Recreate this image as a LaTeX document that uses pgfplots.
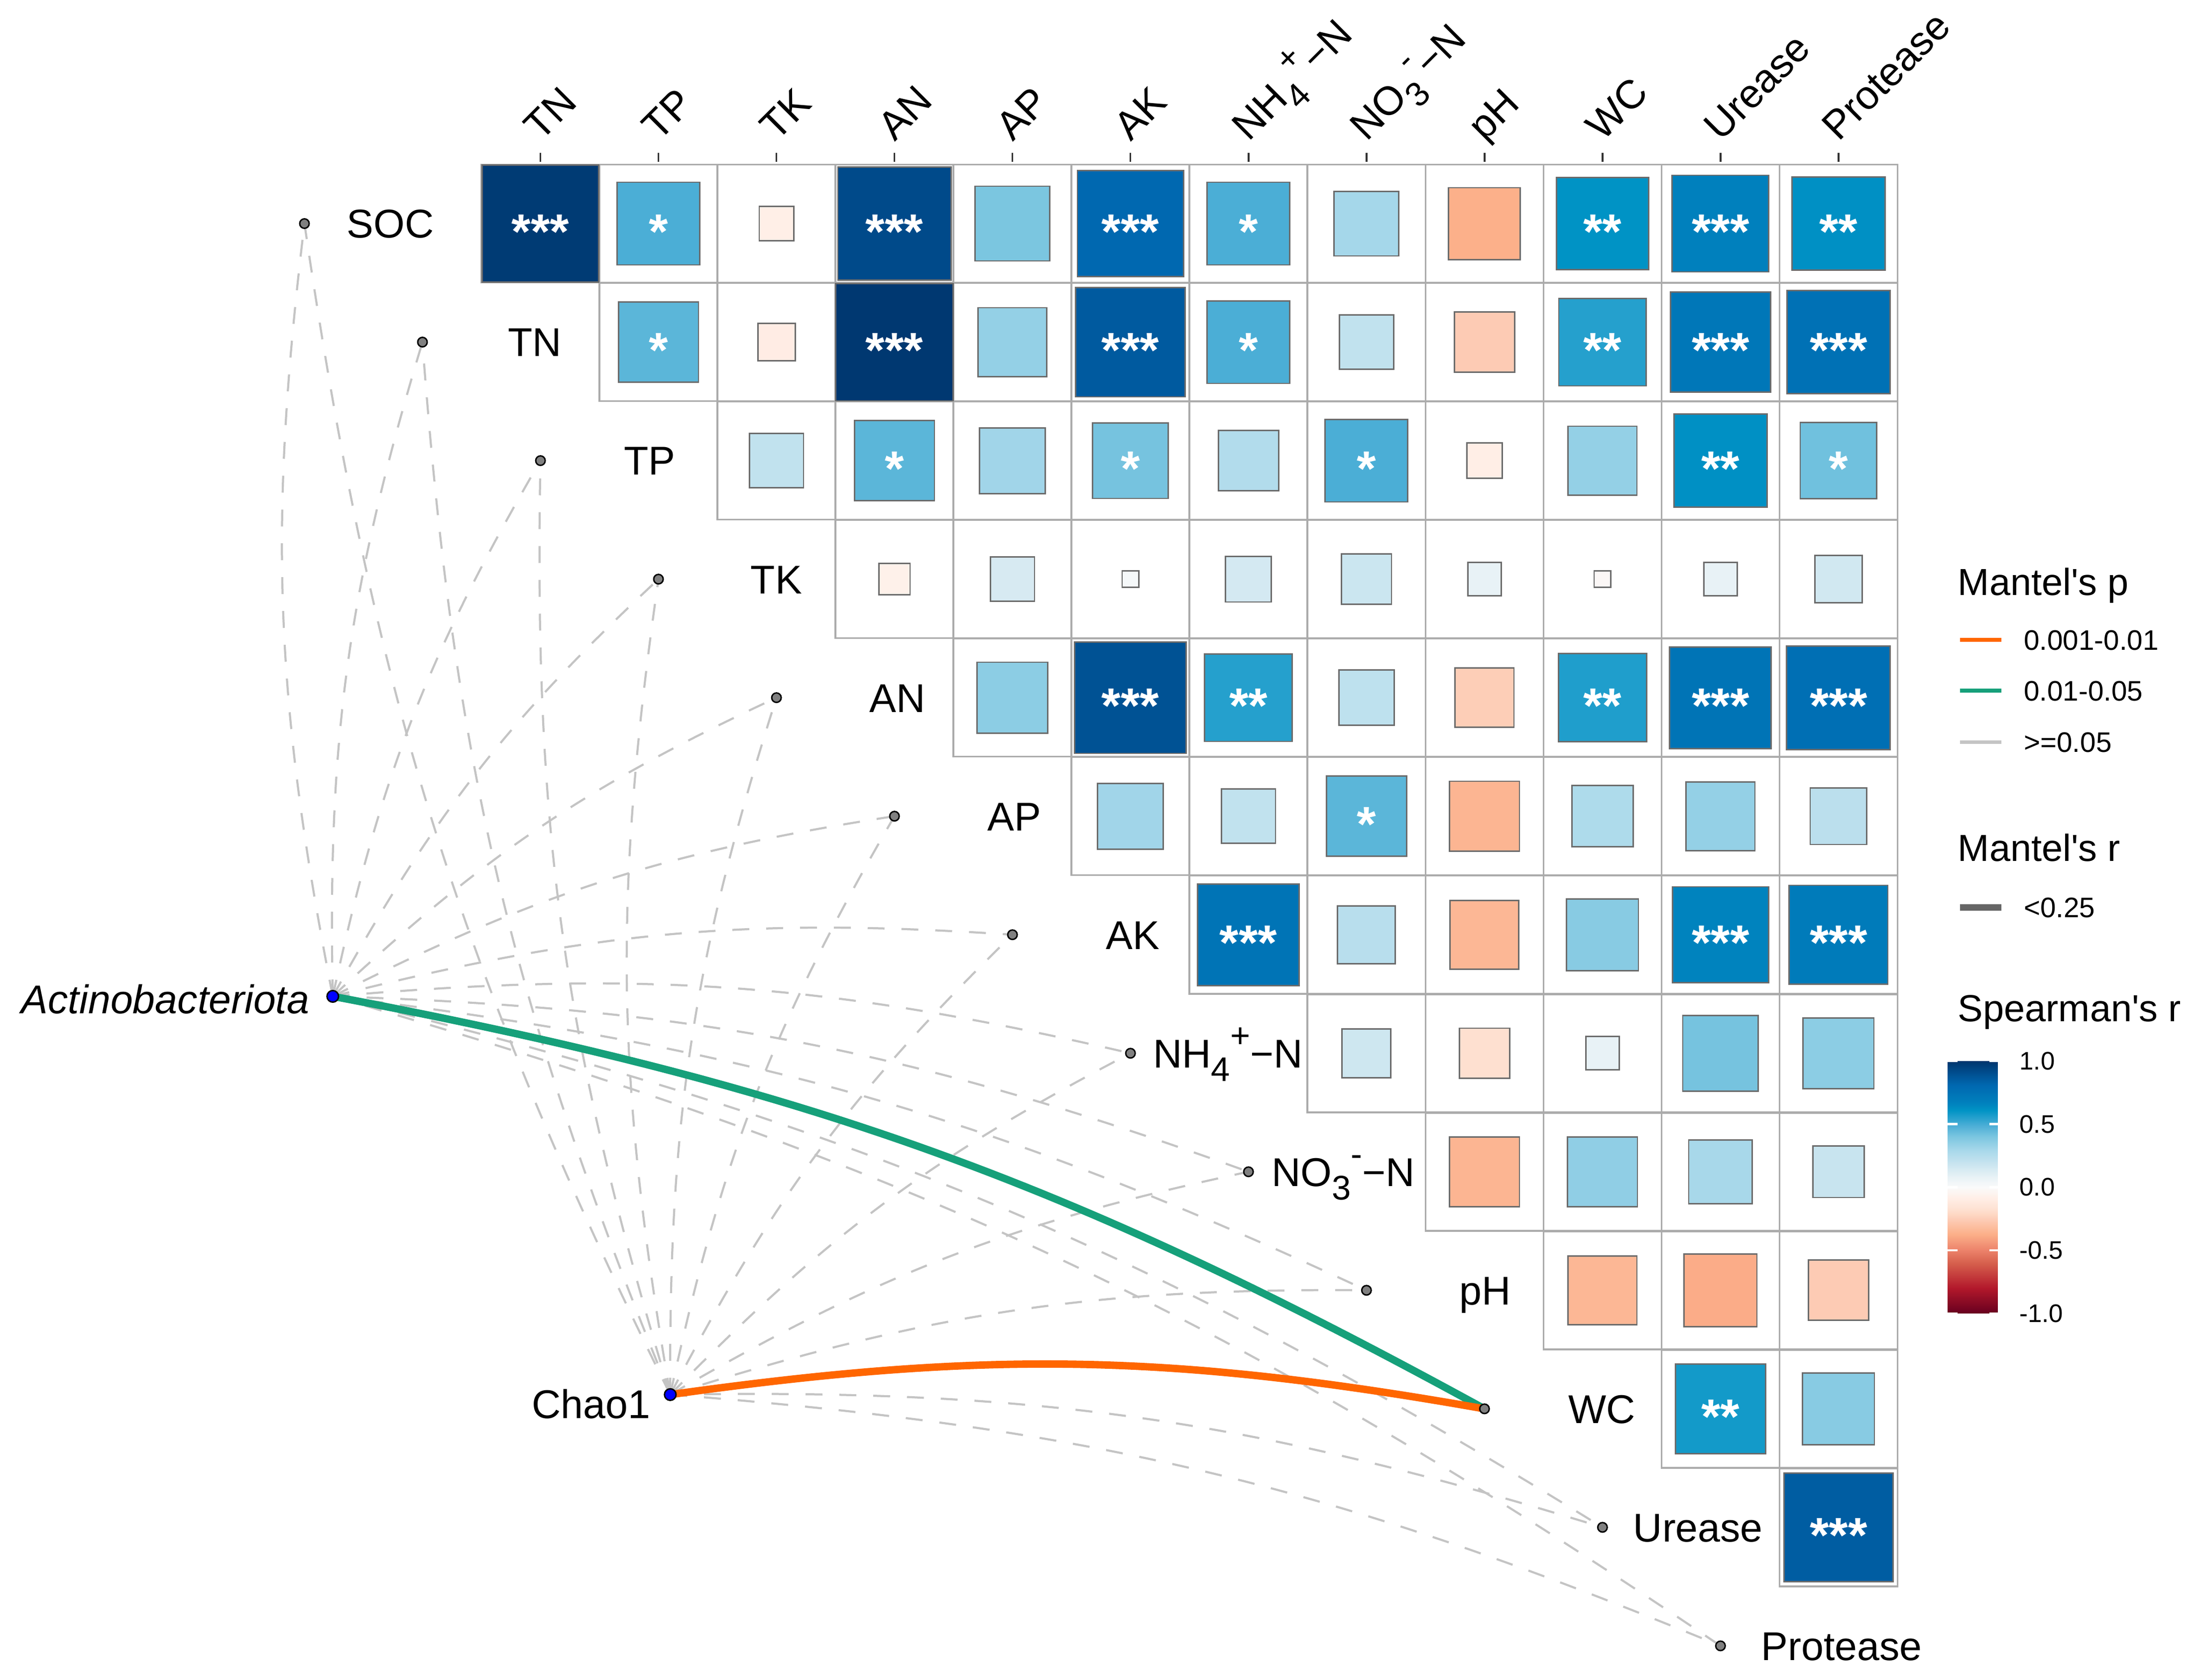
\documentclass[border=0pt]{standalone}
\usepackage{fontspec}
\setmainfont{Liberation Sans}
\usepackage{pgfplots}
\pgfplotsset{compat=1.18}
\usepackage{pgfplotstable}

\definecolor{mpOrange}{RGB}{255,102,0}
\definecolor{mpGreen}{RGB}{22,160,122}
\definecolor{mpGray}{RGB}{196,196,196}
\definecolor{mrGray}{RGB}{102,102,102}

% Spearman's r colours, position = (r+1)*100
\pgfplotsset{colormap={spear}{
  rgb255(0pt)=(103,0,31); rgb255(20pt)=(178,24,43); rgb255(40pt)=(214,96,77);
  rgb255(50pt)=(236,130,106); rgb255(63pt)=(252,176,138); rgb255(74pt)=(253,203,180);
  rgb255(82pt)=(254,224,208); rgb255(91pt)=(255,238,230); rgb255(100pt)=(250,250,250);
  rgb255(108pt)=(232,242,246); rgb255(116pt)=(209,232,241); rgb255(130pt)=(165,215,234);
  rgb255(140pt)=(123,198,224); rgb255(149pt)=(75,174,214); rgb255(161pt)=(0,147,197);
  rgb255(167pt)=(0,128,189); rgb255(181pt)=(0,104,176); rgb255(192pt)=(0,74,138);
  rgb255(200pt)=(0,54,109)}}

% correlation cells: column centre x, row centre y, Spearman r, stars
\pgfplotstableread{
x y r star
0.5 -0.5 0.98 ***
1.5 -0.5 0.49 *
2.5 -0.5 -0.085 {}
3.5 -0.5 0.92 ***
4.5 -0.5 0.40 {}
5.5 -0.5 0.81 ***
6.5 -0.5 0.49 *
7.5 -0.5 0.30 {}
8.5 -0.5 -0.37 {}
9.5 -0.5 0.61 **
10.5 -0.5 0.67 ***
11.5 -0.5 0.62 **
1.5 -1.5 0.46 *
2.5 -1.5 -0.10 {}
3.5 -1.5 0.99 ***
4.5 -1.5 0.34 {}
5.5 -1.5 0.86 ***
6.5 -1.5 0.49 *
7.5 -1.5 0.21 {}
8.5 -1.5 -0.26 {}
9.5 -1.5 0.55 **
10.5 -1.5 0.72 ***
11.5 -1.5 0.76 ***
2.5 -2.5 0.21 {}
3.5 -2.5 0.46 *
4.5 -2.5 0.31 {}
5.5 -2.5 0.41 *
6.5 -2.5 0.26 {}
7.5 -2.5 0.49 *
8.5 -2.5 -0.09 {}
9.5 -2.5 0.34 {}
10.5 -2.5 0.62 **
11.5 -2.5 0.42 *
3.5 -3.5 -0.07 {}
4.5 -3.5 0.14 {}
5.5 -3.5 0.02 {}
6.5 -3.5 0.15 {}
7.5 -3.5 0.18 {}
8.5 -3.5 0.08 {}
9.5 -3.5 -0.02 {}
10.5 -3.5 0.08 {}
11.5 -3.5 0.16 {}
4.5 -4.5 0.36 {}
5.5 -4.5 0.89 ***
6.5 -4.5 0.55 **
7.5 -4.5 0.22 {}
8.5 -4.5 -0.25 {}
9.5 -4.5 0.56 **
10.5 -4.5 0.74 ***
11.5 -4.5 0.77 ***
5.5 -5.5 0.31 {}
6.5 -5.5 0.21 {}
7.5 -5.5 0.46 *
8.5 -5.5 -0.35 {}
9.5 -5.5 0.27 {}
10.5 -5.5 0.34 {}
11.5 -5.5 0.23 {}
6.5 -6.5 0.74 ***
7.5 -6.5 0.24 {}
8.5 -6.5 -0.34 {}
9.5 -6.5 0.37 {}
10.5 -6.5 0.66 ***
11.5 -6.5 0.70 ***
7.5 -7.5 0.17 {}
8.5 -7.5 -0.18 {}
9.5 -7.5 0.08 {}
10.5 -7.5 0.41 {}
11.5 -7.5 0.36 {}
8.5 -8.5 -0.35 {}
9.5 -8.5 0.35 {}
10.5 -8.5 0.29 {}
11.5 -8.5 0.19 {}
9.5 -9.5 -0.34 {}
10.5 -9.5 -0.38 {}
11.5 -9.5 -0.26 {}
10.5 -10.5 0.58 **
11.5 -10.5 0.37 {}
11.5 -11.5 0.85 ***
}\cells

% link end points beside the diagonal
\pgfplotstableread{
x y
-1.5 -0.5
-0.5 -1.5
0.5 -2.5
1.5 -3.5
2.5 -4.5
3.5 -5.5
4.5 -6.5
5.5 -7.5
6.5 -8.5
7.5 -9.5
8.5 -10.5
9.5 -11.5
10.5 -12.5
}\envdots

\newcommand{\subsz}[1]{\raisebox{-3.8pt}{\fontsize{9.7}{10}\selectfont #1}}
\newcommand{\supsz}[1]{\raisebox{5.8pt}{\fontsize{9.7}{10}\selectfont #1}}
\newcommand{\nhfour}{NH\subsz{4}\supsz{+}−N}
\newcommand{\nothree}{NO\subsz{3}\supsz{-}−N}
\newcommand{\ap}{\textquotesingle}

\begin{document}
\begin{tikzpicture}[
  lab/.style={font=\fontsize{11.4}{13}\selectfont, inner sep=0pt, text height=8.16pt, text depth=0pt},
  toplab/.style={font=\fontsize{11.4}{13}\selectfont, inner sep=0pt, rotate=45, anchor=base west},
  ltitle/.style={font=\fontsize{10.7}{12}\selectfont, inner sep=0pt, anchor=base west},
  litem/.style={font=\fontsize{8}{9}\selectfont, inner sep=0pt, text height=5.73pt, text depth=0pt, anchor=west},
  nsl/.style={draw=mpGray, line width=0.6pt, dash pattern=on 4.8pt off 4.8pt},
]
\useasboundingbox (0,0) rectangle (624.8pt,476.8pt);
\begin{axis}[
  scale only axis, width=624.8pt, height=476.8pt,
  hide axis, clip=false,
  xmin=-4.080, xmax=14.572, ymin=-12.787, ymax=1.3865,
  colormap name=spear, point meta min=-1, point meta max=1,
]

% Mantel links, p >= 0.05
\draw[nsl] (axis cs:-1.26,-7.02) to[bend left=9] (axis cs:-1.5,-0.5);
\draw[nsl] (axis cs:-1.26,-7.02) to[bend left=9] (axis cs:-0.5,-1.5);
\draw[nsl] (axis cs:-1.26,-7.02) to[bend left=9] (axis cs:0.5,-2.5);
\draw[nsl] (axis cs:-1.26,-7.02) to[bend left=9] (axis cs:1.5,-3.5);
\draw[nsl] (axis cs:-1.26,-7.02) to[bend left=9] (axis cs:2.5,-4.5);
\draw[nsl] (axis cs:-1.26,-7.02) to[bend left=9] (axis cs:3.5,-5.5);
\draw[nsl] (axis cs:-1.26,-7.02) to[bend left=9] (axis cs:4.5,-6.5);
\draw[nsl] (axis cs:-1.26,-7.02) to[bend left=9] (axis cs:5.5,-7.5);
\draw[nsl] (axis cs:-1.26,-7.02) to[bend left=9] (axis cs:6.5,-8.5);
\draw[nsl] (axis cs:-1.26,-7.02) to[bend left=9] (axis cs:7.5,-9.5);
\draw[nsl] (axis cs:-1.26,-7.02) to[bend left=9] (axis cs:9.5,-11.5);
\draw[nsl] (axis cs:-1.26,-7.02) to[bend left=9] (axis cs:10.5,-12.5);
\draw[nsl] (axis cs:1.60,-10.38) to[bend left=9] (axis cs:-1.5,-0.5);
\draw[nsl] (axis cs:1.60,-10.38) to[bend left=9] (axis cs:-0.5,-1.5);
\draw[nsl] (axis cs:1.60,-10.38) to[bend left=9] (axis cs:0.5,-2.5);
\draw[nsl] (axis cs:1.60,-10.38) to[bend left=9] (axis cs:1.5,-3.5);
\draw[nsl] (axis cs:1.60,-10.38) to[bend left=9] (axis cs:2.5,-4.5);
\draw[nsl] (axis cs:1.60,-10.38) to[bend left=9] (axis cs:3.5,-5.5);
\draw[nsl] (axis cs:1.60,-10.38) to[bend left=9] (axis cs:4.5,-6.5);
\draw[nsl] (axis cs:1.60,-10.38) to[bend left=9] (axis cs:5.5,-7.5);
\draw[nsl] (axis cs:1.60,-10.38) to[bend left=9] (axis cs:6.5,-8.5);
\draw[nsl] (axis cs:1.60,-10.38) to[bend left=9] (axis cs:7.5,-9.5);
\draw[nsl] (axis cs:1.60,-10.38) to[bend left=9] (axis cs:9.5,-11.5);
\draw[nsl] (axis cs:1.60,-10.38) to[bend left=9] (axis cs:10.5,-12.5);
% significant links
\draw[mpGreen, line width=2.1pt] (axis cs:-1.26,-7.02) to[bend left=9] (axis cs:8.5,-10.5);
\draw[mpOrange, line width=2.1pt] (axis cs:1.60,-10.38) to[bend left=9] (axis cs:8.5,-10.5);

% cell outlines
\addplot[only marks, mark=square, mark size=16.75pt,
  mark options={draw=black!33, line width=0.5pt}] table[x=x, y=y] {\cells};
% coloured squares, area ~ |r|
\addplot[scatter, only marks, mark=square*, point meta=explicit,
  scatter/use mapped color={draw=black!58, fill=mapped color},
  visualization depends on={16.75*sqrt(abs(\thisrow{r}))\as\sqside},
  scatter/@pre marker code/.append style={/tikz/mark size=\sqside},
  mark options={line width=0.4pt}] table[x=x, y=y, meta=r] {\cells};
% significance stars
\addplot[only marks, mark=none, nodes near coords, point meta=explicit symbolic,
  nodes near coords style={font=\bfseries\fontsize{14}{14}\selectfont, text=white,
    anchor=base, yshift=-7.1pt, inner sep=0pt}] table[x=x, y=y, meta=star] {\cells};

% column ticks
\addplot[only marks, mark=|, mark size=1.3pt, mark options={draw=black!80, line width=0.5pt}]
  coordinates {(0.5,0.058) (1.5,0.058) (2.5,0.058) (3.5,0.058) (4.5,0.058) (5.5,0.058)
  (6.5,0.058) (7.5,0.058) (8.5,0.058) (9.5,0.058) (10.5,0.058) (11.5,0.058)};

% link end points
\addplot[only marks, mark=*, mark size=1.35pt,
  mark options={fill=gray, draw=black, line width=0.4pt}] table[x=x, y=y] {\envdots};
\addplot[only marks, mark=*, mark size=1.65pt,
  mark options={fill=blue, draw=black, line width=0.4pt}]
  coordinates {(-1.26,-7.02) (1.60,-10.38)};

% column labels
\node[toplab] at (axis cs:0.5,0.182) {TN};
\node[toplab] at (axis cs:1.5,0.182) {TP};
\node[toplab] at (axis cs:2.5,0.182) {TK};
\node[toplab] at (axis cs:3.5,0.182) {AN};
\node[toplab] at (axis cs:4.5,0.182) {AP};
\node[toplab] at (axis cs:5.5,0.182) {AK};
\node[toplab] at (axis cs:6.5,0.182) {\nhfour};
\node[toplab] at (axis cs:7.5,0.182) {\nothree};
\node[toplab] at (axis cs:8.5,0.182) {pH};
\node[toplab] at (axis cs:9.5,0.182) {WC};
\node[toplab] at (axis cs:10.5,0.182) {Urease};
\node[toplab] at (axis cs:11.5,0.182) {Protease};

% row labels
\node[lab] at (axis cs:-0.773,-0.5) {SOC};
\node[lab] at (axis cs:0.451,-1.5) {TN};
\node[lab] at (axis cs:1.424,-2.5) {TP};
\node[lab] at (axis cs:2.499,-3.5) {TK};
\node[lab] at (axis cs:3.526,-4.5) {AN};
\node[lab] at (axis cs:4.517,-5.5) {AP};
\node[lab] at (axis cs:5.520,-6.5) {AK};
\node[lab, anchor=west] at (axis cs:5.687,-7.5) {\nhfour};
\node[lab, anchor=west] at (axis cs:6.690,-8.5) {\nothree};
\node[lab] at (axis cs:8.505,-9.5) {pH};
\node[lab] at (axis cs:9.496,-10.5) {WC};
\node[lab] at (axis cs:10.31,-11.5) {Urease};
\node[lab] at (axis cs:11.526,-12.5) {Protease};

\node[lab, anchor=east] at (axis cs:-1.453,-7.044) {\itshape Actinobacteriota};
\node[lab, anchor=east] at (axis cs:1.436,-10.46) {Chao1};

% legends
\node[ltitle] at (axis cs:12.507,-3.638) {Mantel\ap s p};
\draw[mpOrange, line width=1.2pt] (axis cs:12.528,-4.012) -- (axis cs:12.878,-4.012);
\node[litem] at (axis cs:13.065,-4.012) {0.001-0.01};
\draw[mpGreen, line width=1.2pt] (axis cs:12.528,-4.440) -- (axis cs:12.878,-4.440);
\node[litem] at (axis cs:13.065,-4.440) {0.01-0.05};
\draw[mpGray, line width=0.9pt] (axis cs:12.528,-4.875) -- (axis cs:12.878,-4.875);
\node[litem] at (axis cs:13.065,-4.875) {>=0.05};

\node[ltitle] at (axis cs:12.507,-5.879) {Mantel\ap s r};
\draw[mrGray, line width=1.8pt] (axis cs:12.528,-6.269) -- (axis cs:12.878,-6.269);
\node[litem] at (axis cs:13.065,-6.269) {<0.25};

\node[ltitle] at (axis cs:12.507,-7.234) {Spearman\ap s r};
\coordinate (cb) at (axis cs:12.171,-9.696);
\end{axis}

\begin{axis}[
  at={(cb)}, anchor=south west,
  hide axis, scale only axis, width=0pt, height=0pt,
  colormap name=spear, point meta min=-1, point meta max=1,
  colorbar,
  colorbar style={
    at={(parent axis.south west)}, anchor=south west,
    scale only axis, width=14.68pt, height=71.68pt,
    axis line style={draw=none},
    ytick={-1,-0.5,0,0.5,1},
    yticklabels={-1.0,-0.5,0.0,0.5,1.0},
    yticklabel style={font=\fontsize{7.2}{8}\selectfont, inner sep=0pt, anchor=west, xshift=5.5pt},
    ytick pos=both, yticklabel pos=right,
    tick align=inside, major tick length=2.8pt,
    major tick style={white, line width=0.6pt},
  },
]
\addplot[draw=none] coordinates {(0,0)};
\end{axis}
\end{tikzpicture}
\end{document}
